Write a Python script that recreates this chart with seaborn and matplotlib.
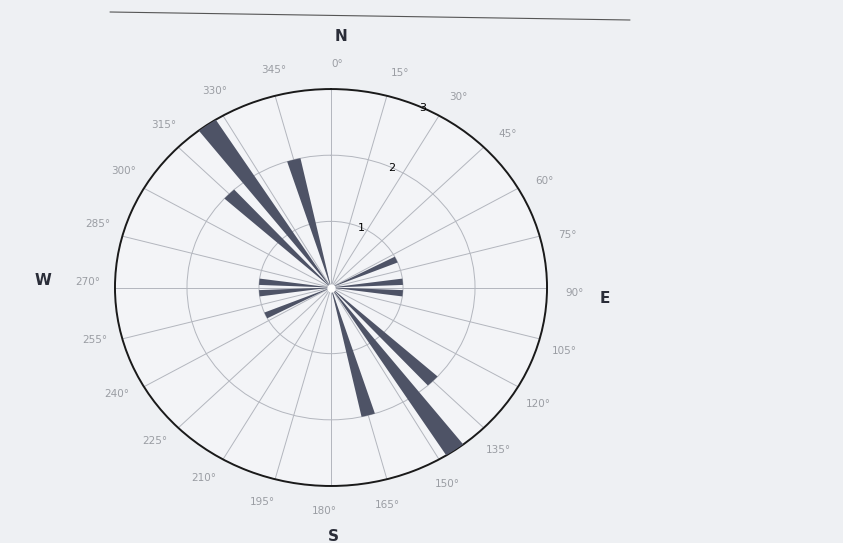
import numpy as np
import matplotlib
matplotlib.use("Agg")
import matplotlib.pyplot as plt
import seaborn as sns
from matplotlib.lines import Line2D

# =====================================
# DATA
# =====================================

directions = [65, 85, 95, 135, 145, 165, 245, 265, 275, 315, 325, 345]
counts = [1, 1, 1, 2, 3, 2, 1, 1, 1, 2, 3, 2]

angle_ticks = list(range(0, 360, 15))
angle_labels = [f"{a}°" for a in angle_ticks]

ring_ticks = [1, 2, 3]
ring_labels = ["1", "2", "3"]

compass_angles = [2, 92.5, 179.5, 271.5]
compass_radius = [3.8, 3.8, 3.76, 4.0]
compass_labels = ["N", "E", "S", "W"]

# the scanned labels sit slightly rotated against the grid
label_tilt = 1.5

# =====================================
# PLOT
# =====================================

sns.set_style("white")
plt.rcParams["font.family"] = ["DejaVu Sans"]

fig = plt.figure(figsize=(8.43, 5.43), dpi=100, facecolor="#eef0f3")
ax = fig.add_axes([0.1364, 0.105, 0.5125, 0.731], projection="polar")
ax.set_aspect("auto")
ax.set_theta_zero_location("N")
ax.set_theta_direction(-1)
ax.set_facecolor("#f3f4f7")

ax.bar(np.deg2rad(directions), counts, width=np.deg2rad(5.5), bottom=0,
       color="#4e5366", edgecolor="none", zorder=3)
ax.scatter([0], [0], s=25, color="white", zorder=4)

ax.set_ylim(0, 3)
ax.set_thetagrids(angle_ticks, labels=[""] * len(angle_ticks))
ax.set_rgrids(ring_ticks, labels=[""] * len(ring_ticks))
ax.grid(True, color="#b3b6be", linewidth=0.7)
ax.spines["polar"].set_color("#1a1a1a")
ax.spines["polar"].set_linewidth(1.4)

for r, lab in zip(ring_ticks, ring_labels):
    ax.text(np.deg2rad(25), r, lab, ha="center", va="center",
            fontsize=8, color="black")

for a, lab in zip(angle_ticks, angle_labels):
    ax.text(np.deg2rad(a + label_tilt), 3.38, lab, ha="center", va="center",
            fontsize=7.5, color="#9a9da3", clip_on=False)

for a, r, lab in zip(compass_angles, compass_radius, compass_labels):
    ax.text(np.deg2rad(a), r, lab, ha="center", va="center",
            fontsize=11, fontweight="bold", color="#2a2d38", clip_on=False)

# scan edge line at the top of the page
fig.add_artist(Line2D([110 / 843, 630 / 843], [1 - 12 / 543, 1 - 20 / 543],
                      color="#555555", linewidth=0.8))

fig.savefig("out.png", dpi=100, facecolor=fig.get_facecolor())
